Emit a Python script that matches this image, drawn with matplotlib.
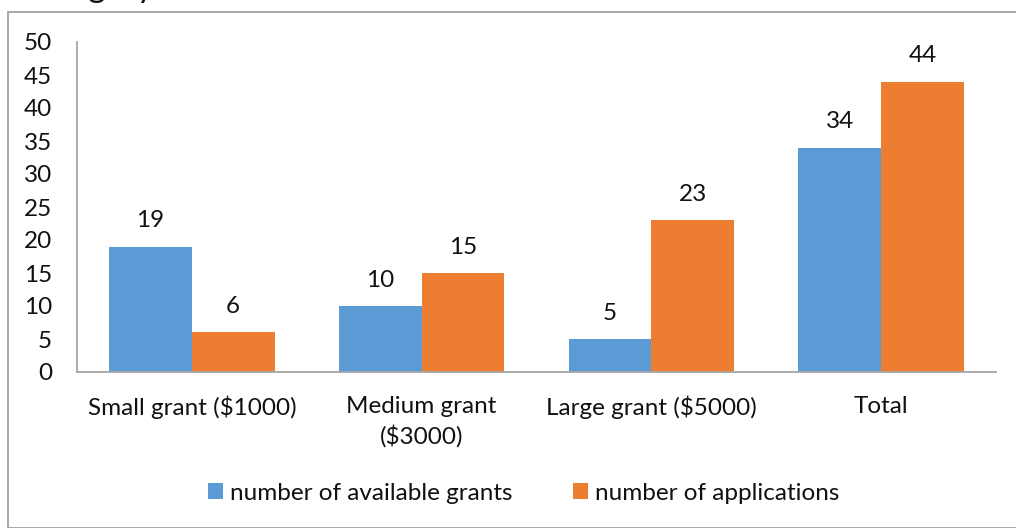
import matplotlib
matplotlib.use("Agg")
import matplotlib.pyplot as plt
import numpy as np
from matplotlib.patches import Rectangle

categories = ["Small grant ($1000)", "Medium grant\n($3000)", "Large grant ($5000)", "Total"]
available = [19, 10, 5, 34]
applications = [6, 15, 23, 44]
series_names = ["number of available grants", "number of applications"]
colors = ["#5B9BD5", "#ED7D31"]

plt.rcParams['font.family'] = ['Lato', 'DejaVu Sans']

W, H = 1016, 528
FS = 17.5
fig = plt.figure(figsize=(W/100, H/100), dpi=100)
ax = fig.add_axes([77/W, 1-372/H, (996-77)/W, (372-42)/H])

x = np.arange(len(categories))
w = 0.36
b1 = ax.bar(x - w/2, available, w, color=colors[0], label=series_names[0])
b2 = ax.bar(x + w/2, applications, w, color=colors[1], label=series_names[1])

for bars in (b1, b2):
    for r in bars:
        ax.annotate(f"{int(r.get_height())}", (r.get_x() + r.get_width()/2, r.get_height()),
                    xytext=(0, 11), textcoords="offset points", ha="center", va="bottom",
                    fontsize=FS, color="#111111")

ax.set_xlim(-0.5, 3.5)
ax.set_ylim(0, 50)
ax.set_yticks(range(0, 51, 5))
ax.set_xticks(x)
ax.set_xticklabels(categories, fontsize=FS, color="#111111", linespacing=1.4)
ax.tick_params(axis='y', labelsize=FS, colors="#111111", length=0, pad=18)
ax.tick_params(axis='x', length=0, pad=17)
for s in ("top", "right"):
    ax.spines[s].set_visible(False)
for s in ("left", "bottom"):
    ax.spines[s].set_color("#A6A6A6")
    ax.spines[s].set_linewidth(1.3)

leg = fig.legend(loc="center", bbox_to_anchor=(524/W, 1-493/H), ncol=2, frameon=False,
                 fontsize=FS, handlelength=0.6, handleheight=0.6, columnspacing=2.5,
                 handletextpad=0.3)
for t in leg.get_texts():
    t.set_color("#111111")

fig.patches.append(Rectangle((8/W, 0), 1.2, 1-12/H, transform=fig.transFigure,
                             fill=False, edgecolor="#9A9A9A", linewidth=1.2))
fig.text(20/W, 1+3/H, "Category", fontsize=24, va="baseline", ha="left", color="#111111")

fig.savefig("out.png", dpi=100)
